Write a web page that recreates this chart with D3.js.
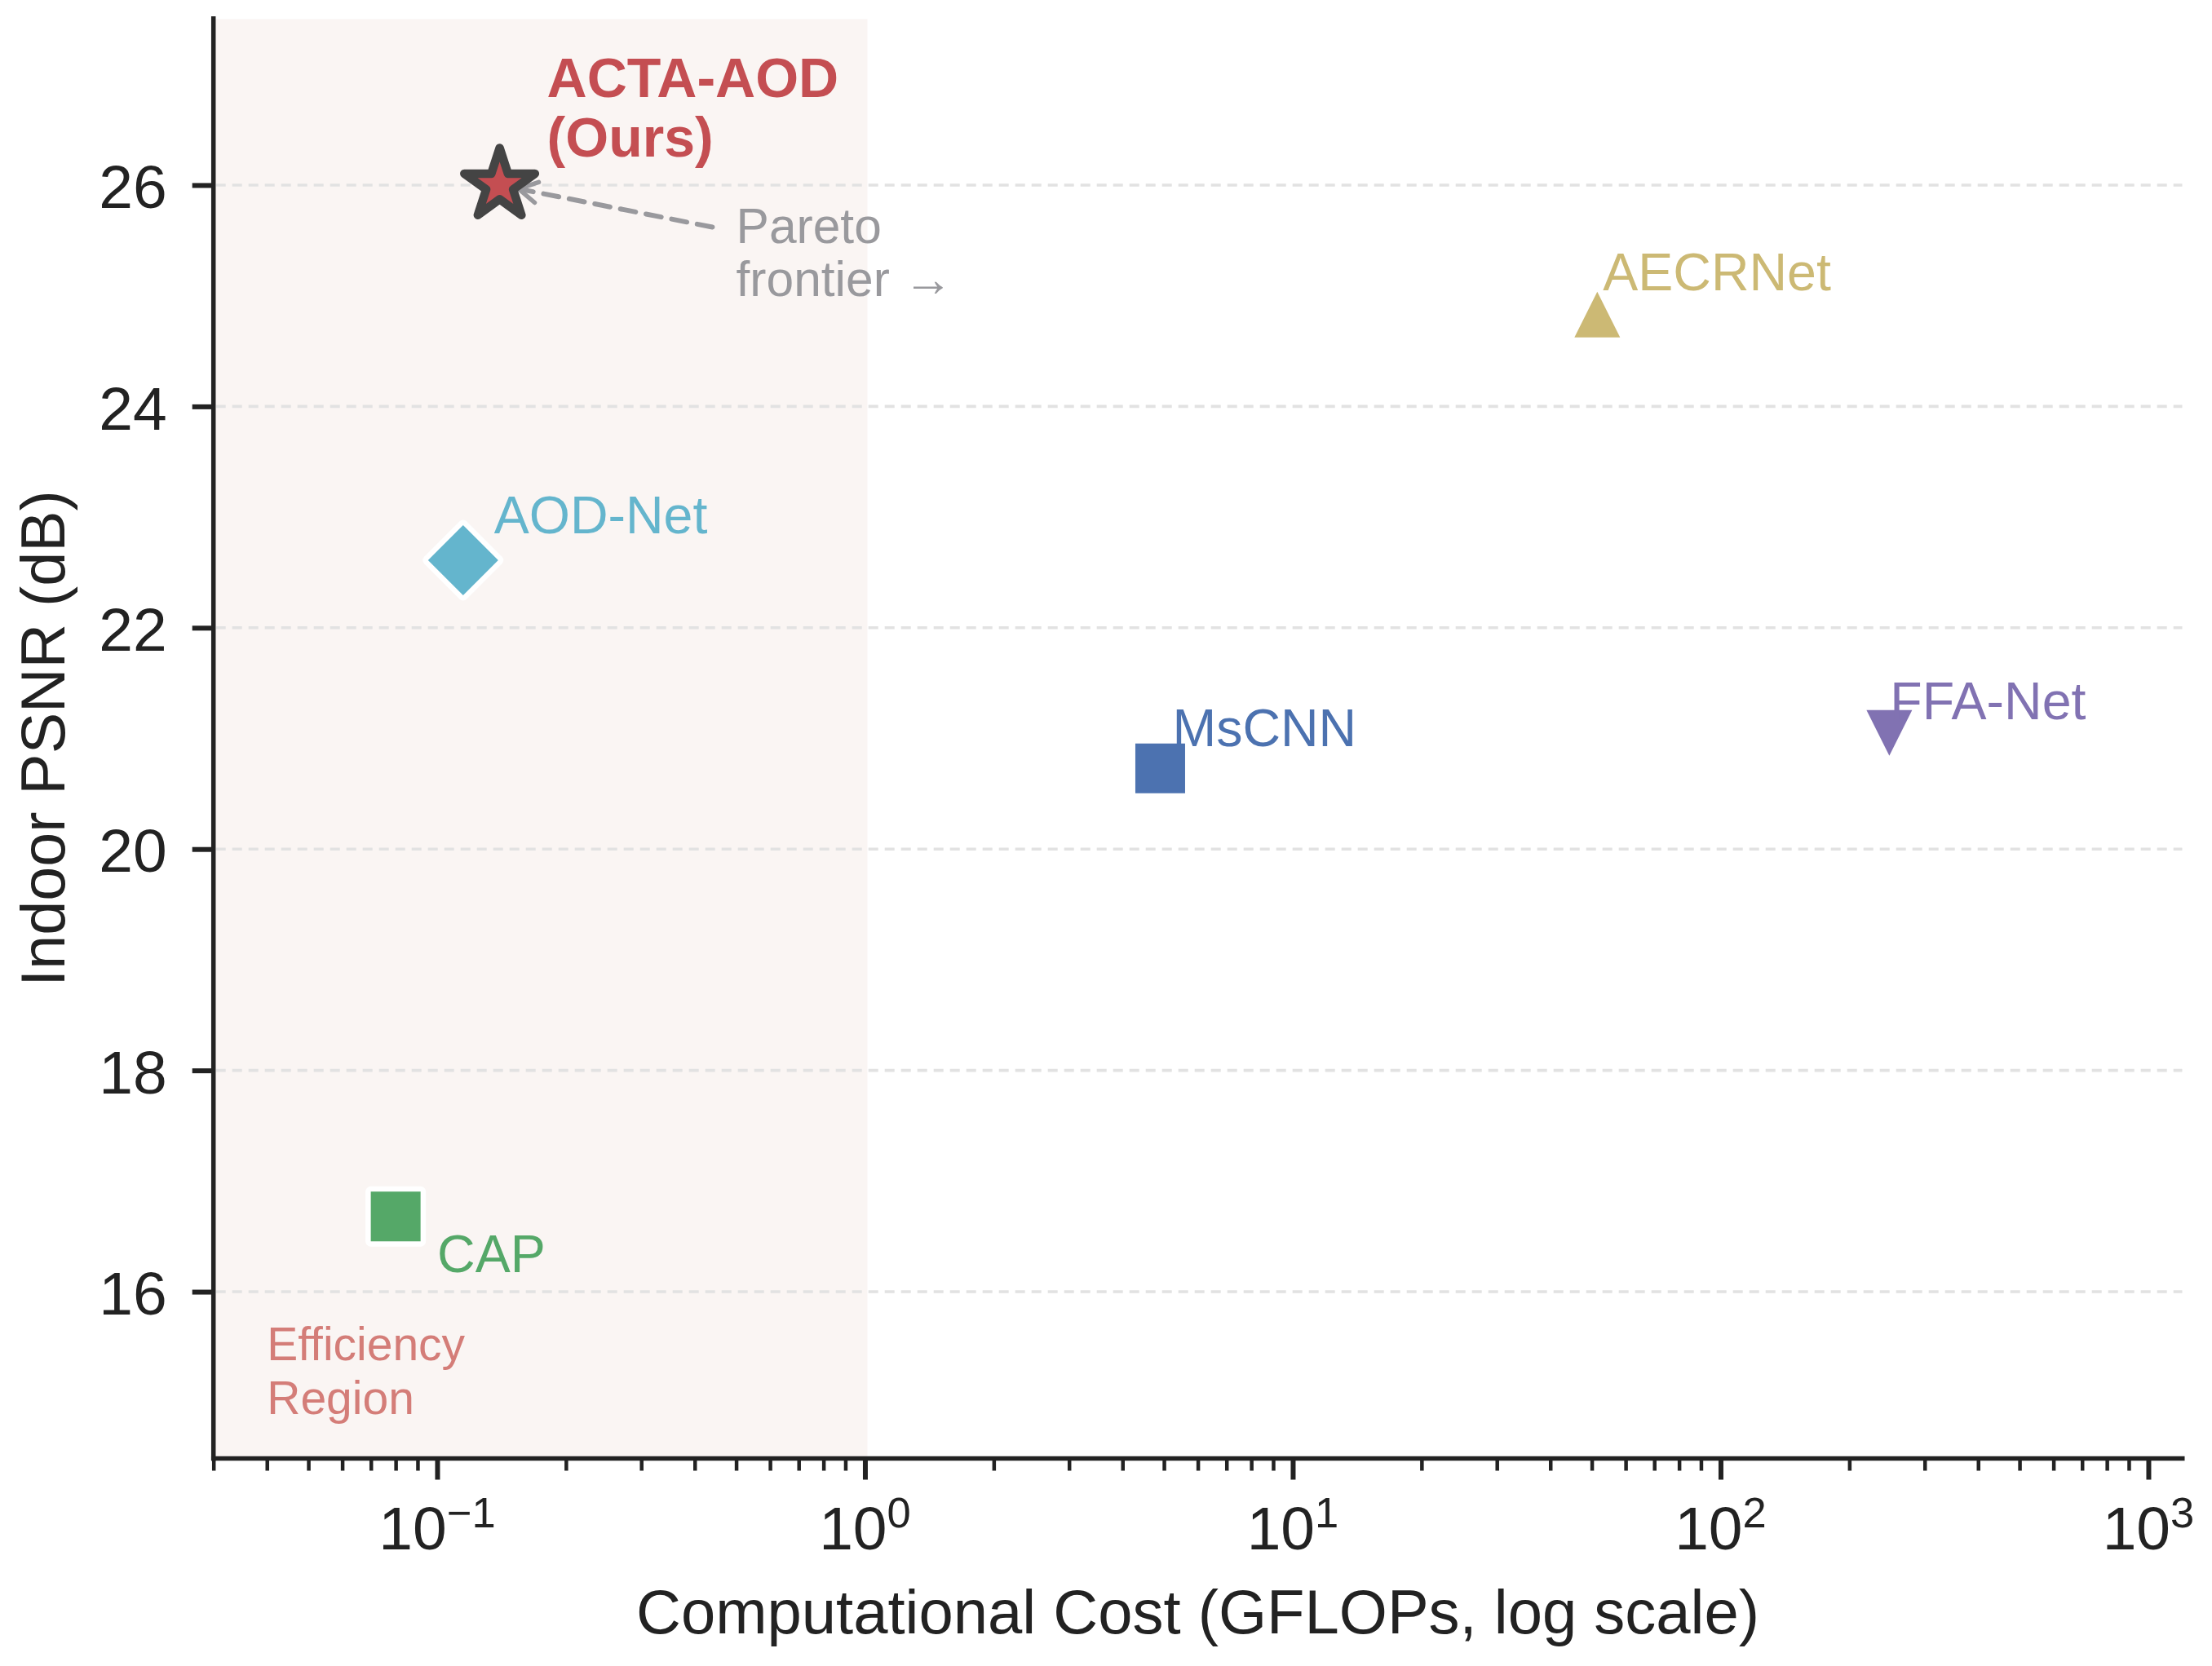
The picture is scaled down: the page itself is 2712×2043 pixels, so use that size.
<!DOCTYPE html>
<html><head><meta charset="utf-8">
<script src="https://cdn.jsdelivr.net/npm/d3@7"></script>
<style>
html,body{margin:0;padding:0;background:#fff;}
svg{display:block;}
text{font-family:"Liberation Sans",Arial,Helvetica,sans-serif;}
</style>
</head><body>
<svg id="c" width="2712" height="2043"></svg>
<script>
// ---------------- data ----------------
const methods = ["ACTA-AOD", "AOD-Net", "CAP", "MsCNN", "AECRNet", "FFA-Net"];
const gflops  = [0.14, 0.115, 0.08, 4.9, 51.5, 248];
const psnr    = [26.0, 22.61, 16.68, 20.73, 24.83, 21.05];
const yTicks  = [16, 18, 20, 22, 24, 26];
const xTickExponents = [-1, 0, 1, 2, 3];
const xLimits = [0.03, 1200];
const yLimits = [14.5, 27.5];
const efficiencyRegionEnd = 1.0;
const xAxisTitle = "Computational Cost (GFLOPs, log scale)";
const yAxisTitle = "Indoor PSNR (dB)";
const oursLabelLines = ["ACTA-AOD", "(Ours)"];
const paretoLines = ["Pareto", "frontier \u2192"];
const regionLines = ["Efficiency", "Region"];

// ---------------- styles / layout ----------------
const colors = {"ACTA-AOD":"#C44E52","AOD-Net":"#64B5CD","CAP":"#55A868","MsCNN":"#4C72B0","AECRNet":"#CCB974","FFA-Net":"#8172B2"};
const shapes = {"ACTA-AOD":"star","AOD-Net":"diamond","CAP":"square","MsCNN":"square","AECRNet":"tri-up","FFA-Net":"tri-down"};
const labelOffset = {"AOD-Net":[38,-33],"CAP":[51,68],"MsCNN":[15,-27],"AECRNet":[7,-30],"FFA-Net":[1,-17]};
const INK = "#222222";

const svg = d3.select("#c");
const x = d3.scaleLog().domain(xLimits).range([261.7, 2675.5]);
const y = d3.scaleLinear().domain(yLimits).range([1787.6, 23.4]);
const X0 = x(xLimits[0]), X1 = x(xLimits[1]), Y0 = y(yLimits[0]), Y1 = y(yLimits[1]);

// efficiency region shading
svg.append("rect")
  .attr("x", X0).attr("y", Y1)
  .attr("width", x(efficiencyRegionEnd) - X0 + 3).attr("height", Y0 - Y1)
  .attr("fill", "#faf5f3");

// grid
svg.append("g").selectAll("line").data(yTicks).join("line")
  .attr("x1", X0 + 3).attr("x2", X1)
  .attr("y1", d => y(d)).attr("y2", d => y(d))
  .attr("stroke", "#e2e2e2").attr("stroke-width", 3.6)
  .attr("stroke-dasharray", "12 8");

// region text
svg.append("g").selectAll("text").data(regionLines).join("text")
  .attr("x", x(0.04)).attr("y", (d, i) => y(15.38) + i * 66)
  .attr("font-size", 57).attr("fill", "#d47d78").text(d => d);

// marker shapes
function shapePath(s) {
  if (s === "star") {
    const R = 45.5, r = R * 0.381966, pts = [];
    for (let i = 0; i < 10; i++) {
      const a = -Math.PI / 2 + i * Math.PI / 5, rr = i % 2 ? r : R;
      pts.push([rr * Math.cos(a), rr * Math.sin(a)]);
    }
    return "M" + pts.map(p => p.join(",")).join("L") + "Z";
  }
  if (s === "diamond") { const h = 43; return `M0,${-h}L${h},0L0,${h}L${-h},0Z`; }
  if (s === "square") { const h = 30.5; return `M${-h},${-h}H${h}V${h}H${-h}Z`; }
  if (s === "tri-up") { const h = 28; return `M0,${-h}L${h},${h}L${-h},${h}Z`; }
  if (s === "tri-down") { const h = 28; return `M0,${h}L${h},${-h}L${-h},${-h}Z`; }
}

const pts = methods.map((m, i) => ({m, gx: gflops[i], py: psnr[i]}));

// pareto arrow (drawn under markers)
{
  const ours = pts[0];
  const cx = x(ours.gx), cy = y(ours.py);
  const sx = x(0.44), sy = y(25.62);
  const dx = sx - cx, dy = sy - cy, L = Math.hypot(dx, dy);
  const ux = dx / L, uy = dy / L;
  const tx = cx + ux * 23.5, ty = cy + uy * 23.5;
  svg.append("line").attr("x1", sx).attr("y1", sy).attr("x2", tx).attr("y2", ty)
    .attr("stroke", "#99999d").attr("stroke-width", 6)
    .attr("stroke-dasharray", "19 13").attr("stroke-linecap", "round");
  const px = -uy, py = ux, al = 22.8, aw = 12.8;
  svg.append("path")
    .attr("d", `M${tx + ux*al + px*aw},${ty + uy*al + py*aw}L${tx},${ty}L${tx + ux*al - px*aw},${ty + uy*al - py*aw}`)
    .attr("fill", "none").attr("stroke", "#99999d").attr("stroke-width", 5.5)
    .attr("stroke-linecap", "round").attr("stroke-linejoin", "round");
}

// markers
svg.append("g").selectAll("path").data(pts).join("path")
  .attr("transform", d => `translate(${x(d.gx)},${y(d.py)})`)
  .attr("d", d => shapePath(shapes[d.m]))
  .attr("fill", d => colors[d.m])
  .attr("stroke", d => shapes[d.m] === "star" ? "#444444" : "#ffffff")
  .attr("stroke-width", d => shapes[d.m] === "star" ? 10.5 : 13)
  .attr("stroke-linejoin", "round")
  .attr("paint-order", d => shapes[d.m] === "star" ? "fill" : "stroke");

// method labels
svg.append("g").selectAll("text").data(pts.slice(1)).join("text")
  .attr("x", d => x(d.gx) + labelOffset[d.m][0])
  .attr("y", d => y(d.py) + labelOffset[d.m][1])
  .attr("font-size", 64.5).attr("fill", d => colors[d.m]).text(d => d.m);

// ours label
svg.append("g").selectAll("text").data(oursLabelLines).join("text")
  .attr("x", x(pts[0].gx) + 58).attr("y", (d, i) => y(pts[0].py) - 108 + i * 73)
  .attr("font-size", 68).attr("font-weight", "bold").attr("fill", colors["ACTA-AOD"]).text(d => d);

// pareto text
svg.append("g").selectAll("text").data(paretoLines).join("text")
  .attr("x", x(0.5)).attr("y", (d, i) => y(25.48) + i * 65)
  .attr("font-size", 60.5).attr("fill", "#99999d").text(d => d);

// ---------------- axes ----------------
const xMajor = xTickExponents.map(e => Math.pow(10, e));
const xMinor = [];
for (let e = -2; e <= 2; e++) for (let k = 2; k <= 9; k++) {
  const v = k * Math.pow(10, e);
  if (v >= xLimits[0] * 0.9999 && v <= xLimits[1]) xMinor.push(v);
}
const AX_Y = 1788.5;
const gx = svg.append("g").attr("transform", `translate(0,${AX_Y})`);
gx.append("g").call(d3.axisBottom(x).tickValues(xMinor).tickSize(15).tickFormat(""))
  .call(g => g.select(".domain").remove())
  .call(g => g.selectAll(".tick line").attr("stroke", INK).attr("stroke-width", 4.5));
gx.append("g").call(d3.axisBottom(x).tickValues(xMajor).tickSize(26).tickFormat(""))
  .call(g => g.select(".domain").remove())
  .call(g => g.selectAll(".tick line").attr("stroke", INK).attr("stroke-width", 6));
const xl = gx.append("g").selectAll("text").data(xTickExponents).join("text")
  .attr("x", d => x(Math.pow(10, d))).attr("y", 111)
  .attr("text-anchor", "middle").attr("fill", INK).attr("font-size", 75);
xl.append("tspan").text("10");
xl.append("tspan").attr("font-size", 52.5).attr("dy", -27)
  .text(d => d < 0 ? "\u2212" + Math.abs(d) : String(d));

const gy = svg.append("g").attr("transform", `translate(${X0},0)`);
gy.call(d3.axisLeft(y).tickValues(yTicks).tickSize(26).tickPadding(31).tickFormat(d3.format("d")))
  .call(g => g.select(".domain").remove())
  .call(g => g.selectAll(".tick line").attr("stroke", INK).attr("stroke-width", 6))
  .call(g => g.selectAll(".tick text").attr("fill", INK).attr("font-size", 75)
    .attr("font-family", "'Liberation Sans',Arial,sans-serif").attr("dy", "0.37em"));

// spines
svg.append("line").attr("x1", X0).attr("x2", X0).attr("y1", 20).attr("y2", AX_Y + 2.75)
  .attr("stroke", INK).attr("stroke-width", 5.5);
svg.append("line").attr("x1", X0 - 2.75).attr("x2", X1 + 3).attr("y1", AX_Y).attr("y2", AX_Y)
  .attr("stroke", INK).attr("stroke-width", 5.5);

// axis titles
svg.append("text").attr("x", (X0 + X1) / 2).attr("y", 2003)
  .attr("text-anchor", "middle").attr("font-size", 76).attr("fill", INK).text(xAxisTitle);
svg.append("text").attr("transform", `translate(79,${(Y0 + Y1) / 2}) rotate(-90)`)
  .attr("text-anchor", "middle").attr("font-size", 75.5).attr("fill", INK).text(yAxisTitle);
</script>
</body></html>
